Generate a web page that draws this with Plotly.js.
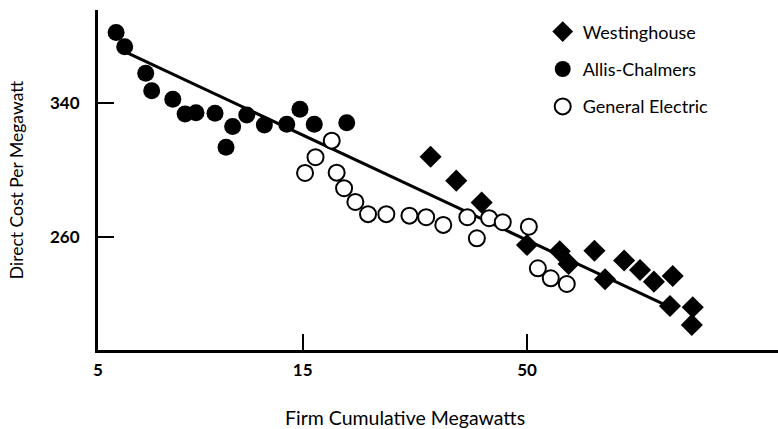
<!DOCTYPE html>
<html>
<head>
<meta charset="utf-8">
<script src="https://cdn.plot.ly/plotly-3.0.1.min.js"></script>
<style>html,body{margin:0;padding:0;background:#fff;}#chart{width:778px;height:429px;}</style>
</head>
<body>
<div id="chart"></div>
<script>
// Westinghouse (diamonds)
var westX = [29.8, 34.2, 39.2, 50.0, 59.6, 62.5, 71.8, 76.0, 84.2, 91.7, 98.8, 109.3, 107.7, 121.7, 121.1];
var westY = [307.9, 293.6, 280.5, 255.2, 251.5, 243.9, 251.8, 234.7, 245.9, 240.3, 233.3, 236.7, 218.8, 218.0, 207.5];
// Allis-Chalmers (filled circles)
var allisX = [5.51, 5.77, 6.46, 6.67, 7.47, 7.98, 8.46, 9.37, 10.3, 9.94, 11.11, 12.21, 13.77, 14.78, 15.96, 19.0];
var allisY = [382.0, 373.6, 357.7, 347.3, 342.2, 333.4, 334.2, 333.9, 325.9, 313.6, 332.8, 326.9, 327.3, 336.2, 327.3, 328.2];
// General Electric (open circles)
var geX = [17.53, 16.07, 15.19, 18.0, 18.73, 19.9, 21.3, 23.5, 26.6, 29.1, 31.9, 36.3, 38.2, 40.8, 43.9, 50.5, 53.0, 56.8, 61.9];
var geY = [317.5, 307.6, 298.2, 298.4, 289.1, 280.9, 273.6, 273.6, 272.7, 271.8, 267.2, 271.8, 259.2, 271.2, 268.8, 266.1, 241.3, 235.3, 231.9];
// Fitted learning curve
var fitX = [5.77, 105];
var fitY = [370.6, 219.4];
// Axis ticks
var xTickVals = [5, 15, 50];
var xTickText = ['5', '15', '50'];
var yTickVals = [260, 340];
var yTickText = ['260', '340'];

var FONT = 'Lato, "Open Sans", sans-serif';

var traces = [
  {x: fitX, y: fitY, mode: 'lines', type: 'scatter', showlegend: false,
   line: {color: '#000', width: 3}, hoverinfo: 'skip'},
  {x: geX, y: geY, mode: 'markers', type: 'scatter', name: 'General Electric', legendgroup: 'c', legendrank: 3,
   marker: {symbol: 'circle', size: 16, color: '#fff', line: {color: '#000', width: 2}}},
  {x: allisX, y: allisY, mode: 'markers', type: 'scatter', name: 'Allis-Chalmers', legendgroup: 'b', legendrank: 2,
   marker: {symbol: 'circle', size: 17, color: '#000', line: {color: '#000', width: 0}}},
  {x: westX, y: westY, mode: 'markers', type: 'scatter', name: 'Westinghouse', legendgroup: 'a', legendrank: 1,
   marker: {symbol: 'diamond', size: 17, color: '#000', line: {color: '#000', width: 0}}}
];

var layout = {
  width: 778, height: 429,
  margin: {l: 98, r: 0, t: 10, b: 79, pad: 0},
  paper_bgcolor: '#fff', plot_bgcolor: '#fff',
  font: {family: FONT, size: 16, color: '#000'},
  showlegend: true,
  legend: {x: 0.654, y: 0.99, xanchor: 'left', yanchor: 'top', traceorder: 'grouped',
           tracegroupgap: 11, bgcolor: 'rgba(0,0,0,0)', font: {family: FONT, size: 18, color: '#000'}},
  xaxis: {
    type: 'log', range: [Math.log10(5), 2.284],
    tickvals: xTickVals, ticktext: xTickText,
    ticks: 'inside', ticklen: 16, tickwidth: 2, tickcolor: '#000',
    showline: true, linecolor: '#000', linewidth: 3,
    showgrid: false, zeroline: false,
    tickfont: {family: FONT, size: 17, color: '#000', weight: 'bold'},
    ticklabelstandoff: 3
  },
  yaxis: {
    range: [192.5, 395.5],
    tickvals: yTickVals, ticktext: yTickText,
    ticks: 'inside', ticklen: 16, tickwidth: 2, tickcolor: '#000',
    showline: true, linecolor: '#000', linewidth: 3,
    showgrid: false, zeroline: false,
    tickfont: {family: FONT, size: 17, color: '#000', weight: 'bold'},
    ticklabelstandoff: 12,
    title: {text: 'Direct Cost Per Megawatt', standoff: 22, font: {family: FONT, size: 17.5, color: '#000'}}
  },
  annotations: [
    {text: 'Firm Cumulative Megawatts', xref: 'paper', yref: 'paper',
     x: (404.7 - 98) / 680, y: 0, yshift: -67, xanchor: 'center', yanchor: 'middle',
     showarrow: false, font: {family: FONT, size: 19.5, color: '#000'}}
  ]
};

Plotly.newPlot('chart', traces, layout, {displayModeBar: false, staticPlot: true});
</script>
</body>
</html>
